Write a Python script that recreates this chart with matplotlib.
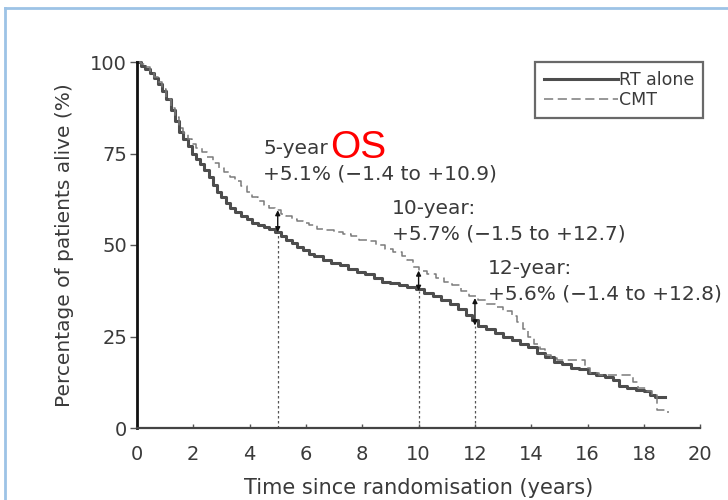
import numpy as np
import matplotlib.pyplot as plt
from matplotlib.lines import Line2D

plt.rcParams['font.family'] = ['DejaVu Sans']

# Kaplan-Meier curves
rt_t = [0, 0.15, 0.3, 0.45, 0.6, 0.75, 0.9, 1.05, 1.2, 1.35, 1.5, 1.65, 1.8, 1.95,
        2.1, 2.25, 2.4, 2.55, 2.7, 2.85, 3.0, 3.15, 3.3, 3.5, 3.7, 3.9, 4.1, 4.3,
        4.5, 4.7, 4.9, 5.1, 5.3, 5.5, 5.7, 5.9, 6.1, 6.3, 6.6, 6.9, 7.2, 7.5, 7.8,
        8.1, 8.4, 8.7, 9.0, 9.3, 9.6, 9.9, 10.2, 10.5, 10.8, 11.1, 11.4, 11.7,
        11.9, 12.1, 12.4, 12.7, 13.0, 13.3, 13.6, 13.9, 14.2, 14.5, 14.8, 15.1,
        15.4, 15.7, 16.0, 16.3, 16.6, 16.9, 17.1, 17.4, 17.7, 18.0, 18.2, 18.4,
        18.75]
rt_s = [100, 99, 98, 97, 95.5, 94, 92, 90, 87, 84, 81, 79, 77, 75,
        73.5, 72, 70.5, 68.5, 66.5, 64.5, 63, 61.5, 60, 59, 58, 57, 56, 55.5,
        55, 54.5, 53.5, 52.5, 51.5, 50.5, 49.5, 48.5, 47.5, 47, 46, 45, 44.5, 43.5, 42.5,
        42, 41, 40, 39.5, 39, 38.5, 38, 37, 36, 35, 34, 32.5, 31,
        29.5, 28, 27, 26, 25, 24, 23, 22, 20.5, 19.5, 18, 17.5,
        16.5, 16, 15, 14.5, 14, 13, 11.5, 11, 10.5, 10, 9, 8.5,
        8.5]

cmt_t = [0, 0.15, 0.3, 0.45, 0.6, 0.75, 0.9, 1.05, 1.2, 1.35, 1.5, 1.65, 1.8, 1.95,
         2.1, 2.3, 2.5, 2.7, 2.9, 3.1, 3.3, 3.5, 3.7, 3.9, 4.1, 4.3, 4.5, 4.7, 4.9,
         5.1, 5.3, 5.5, 5.7, 5.9, 6.1, 6.4, 6.7, 7.0, 7.3, 7.6, 7.9, 8.2, 8.5, 8.8,
         9.1, 9.4, 9.6, 9.8, 10.0, 10.3, 10.6, 10.9, 11.2, 11.5, 11.8, 12.1, 12.4,
         12.7, 13.0, 13.3, 13.5, 13.7, 13.9, 14.1, 14.3, 14.5, 14.7, 14.9, 15.7,
         15.9, 16.1, 16.4, 17.4, 17.6, 17.8, 18.1, 18.3, 18.45, 18.85]
cmt_s = [100, 99.5, 98.5, 97.5, 96, 94.5, 92.5, 90, 87.5, 85, 82, 80.5, 79, 77.5,
         76.5, 75.5, 74, 72.5, 71, 70, 68.5, 67.5, 66, 64.5, 63, 62, 61, 60, 59.5,
         58.5, 58, 57, 56.5, 56, 55.5, 54.5, 54, 53.5, 53, 52.5, 51.5, 51, 50, 49,
         48, 47, 46, 44, 43, 42, 41, 40, 39, 37.5, 36, 35, 34,
         33, 32, 30.5, 29, 27, 25, 23, 21.5, 20, 19, 18.5, 18.5,
         16.5, 15, 14.5, 14.5, 12.5, 11, 10, 9, 5, 4]

# differences marked on the chart
mark_t = [5, 10, 12]
mark_rt = [53.5, 37.5, 28]
mark_cmt = [59.5, 43, 35.5]
mark_head = ['5-year', '10-year:', '12-year:']
mark_diff = ['+5.1% (\u22121.4 to +10.9)', '+5.7% (\u22121.5 to +12.7)',
             '+5.6% (\u22121.4 to +12.8)']

xticks = np.arange(0, 21, 2)
yticks = [0, 25, 50, 75, 100]

fig = plt.figure(figsize=(7.28, 5), dpi=100)
ax = fig.add_axes([0.188, 0.144, 0.774, 0.732])

ax.plot(rt_t, rt_s, drawstyle='steps-post', color='#4d4d4d', lw=2.2,
        label='RT alone', clip_on=False)
ax.plot(cmt_t, cmt_s, drawstyle='steps-post', color='#7a7a7a', lw=1.1,
        dashes=(6, 3), label='CMT', clip_on=False)

for t, a, b in zip(mark_t, mark_rt, mark_cmt):
    ax.plot([t, t], [0, a], color='#555555', lw=0.9, ls=(0, (2, 2)))
    ax.annotate('', xy=(t, b), xytext=(t, a),
                arrowprops=dict(arrowstyle='<|-|>', color='#111111', lw=1,
                                mutation_scale=7, shrinkA=0, shrinkB=0))

txt = dict(fontsize=14.5, color='#3a3a3a', va='center_baseline')
ax.text(4.48, 76.8, mark_head[0], **txt)
ax.text(4.48, 70.0, mark_diff[0], **txt)
ax.text(9.06, 60.4, mark_head[1], **txt)
ax.text(9.06, 53.6, mark_diff[1], **txt)
ax.text(12.45, 44.0, mark_head[2], **txt)
ax.text(12.45, 37.2, mark_diff[2], **txt)
ax.text(6.85, 77.5, 'OS', fontsize=28, color='red', va='center_baseline',
        family='Liberation Sans')

ax.set_xlim(0, 20)
ax.set_ylim(0, 100)
ax.set_xticks(xticks)
ax.set_yticks(yticks)
ax.tick_params(labelsize=14, labelcolor='#3a3a3a', colors='#555555', width=1)
ax.tick_params(axis='x', direction='in', length=3, pad=12)
ax.tick_params(axis='y', direction='out', length=5, pad=2)
for s in ['top', 'right']:
    ax.spines[s].set_visible(False)
ax.spines['left'].set_linewidth(2)
ax.spines['left'].set_color('#111111')
ax.spines['bottom'].set_linewidth(1.6)
ax.spines['bottom'].set_color('#444444')

ax.set_xlabel('Time since randomisation (years)', fontsize=15, color='#3a3a3a',
              labelpad=10)
ax.set_ylabel('Percentage of patients alive (%)', fontsize=14.5, color='#3a3a3a',
              labelpad=12)

leg = ax.legend(loc='upper right', bbox_to_anchor=(1.005, 1.0), borderaxespad=0,
                fontsize=12.5, frameon=True, fancybox=False, handlelength=4.3,
                handletextpad=0.05, borderpad=0.5, labelspacing=0.15,
                labelcolor='#3a3a3a')
leg.get_frame().set_edgecolor('#444444')
leg.get_frame().set_linewidth(1.6)

# light blue slide frame
fig.add_artist(Line2D([0.007, 1.0], [0.984, 0.984], color='#9dc3e6', lw=2,
                      transform=fig.transFigure))
fig.add_artist(Line2D([0.007, 0.007], [0.0, 0.984], color='#9dc3e6', lw=2,
                      transform=fig.transFigure))

fig.savefig('out.png', dpi=100)
